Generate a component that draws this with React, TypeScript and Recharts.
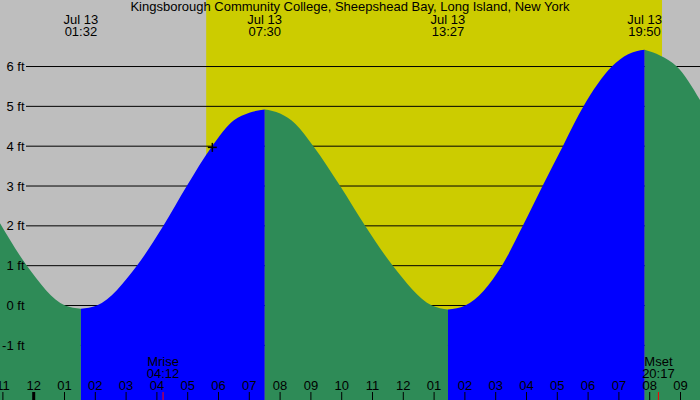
import React from "react";
import { ComposedChart, Area, Line, XAxis, YAxis, ReferenceDot } from "recharts";

// chart size and look
const W = 700;
const H = 400;
const FONT = '"Liberation Sans", Arial, sans-serif';
const FS = 13;

const title = "Kingsborough Community College, Sheepshead Bay, Long Island, New York";

// tide height (ft) at hours after midnight Jul 13
const tideHours = [-1.1, -0.22, 1.02, 1.533, 2.05, 3.35, 4.21, 4.97, 5.79, 6.5, 7.0, 7.5, 8.0, 8.5, 9.08, 9.95, 10.76, 11.66, 12.93, 13.45, 14.01, 15.2, 15.88, 16.52, 17.18, 17.85, 18.77, 19.3, 19.833, 20.35, 20.88, 21.64];
const tideFeet = [2.07, 1.0, 0.0, -0.08, 0.0, 1.0, 2.0, 3.0, 4.0, 4.65, 4.84, 4.92, 4.82, 4.56, 4.0, 3.0, 2.0, 1.0, 0.0, -0.1, 0.0, 1.0, 2.0, 3.0, 4.0, 5.0, 6.0, 6.31, 6.42, 6.27, 6.0, 5.15];

// high / low tide labels along the top
const extremeHours = [1.533, 7.5, 13.45, 19.833];
const extremeDates = ["Jul 13", "Jul 13", "Jul 13", "Jul 13"];
const extremeTimes = ["01:32", "07:30", "13:27", "19:50"];

// hour ticks along the bottom
const hourTicks = [-1, 0, 1, 2, 3, 4, 5, 6, 7, 8, 9, 10, 11, 12, 13, 14, 15, 16, 17, 18, 19, 20, 21];
const hourLabels = ["11", "12", "01", "02", "03", "04", "05", "06", "07", "08", "09", "10", "11", "12", "01", "02", "03", "04", "05", "06", "07", "08", "09"];

// moon rise / set
const moonHours = [4.2, 20.283];
const moonNames = ["Mrise", "Mset"];
const moonTimes = ["04:12", "20:17"];

// daylight
const sunriseHour = 5.6;
const sunsetHour = 20.4;

const feetTicks = [-1, 0, 1, 2, 3, 4, 5, 6];
const markerHour = 5.8;
const markerFeet = 3.97;

const xDomain: [number, number] = [-1.0942, 21.633];
const yDomain: [number, number] = [-2.372, 7.67];
const gridStart = -0.25;

// split every point into rising (blue) and falling (green) parts
const rows = tideHours.map((t, i) => {
  const upBefore = i > 0 && tideFeet[i] > tideFeet[i - 1];
  const upAfter = i < tideFeet.length - 1 && tideFeet[i + 1] > tideFeet[i];
  const downBefore = i > 0 && tideFeet[i] < tideFeet[i - 1];
  const downAfter = i < tideFeet.length - 1 && tideFeet[i + 1] < tideFeet[i];
  return {
    t,
    rise: upBefore || upAfter ? tideFeet[i] : null,
    fall: downBefore || downAfter ? tideFeet[i] : null,
  };
});

const dayRows = [
  { t: sunriseHour, v: yDomain[1] },
  { t: sunsetHour, v: yDomain[1] },
];

const HourTick = (props: any) => {
  const { x, payload } = props;
  const i = hourTicks.indexOf(payload.value);
  return (
    <g>
      <line x1={x} x2={x} y1={H - 8} y2={H} stroke="#000" strokeWidth={payload.value === 0 ? 3 : 1} />
      <text x={x} y={H - 10} textAnchor="middle" fontSize={FS} fontFamily={FONT} fill="#000">
        {hourLabels[i]}
      </text>
    </g>
  );
};

const ExtremeTick = (props: any) => {
  const { x, payload } = props;
  const i = extremeHours.indexOf(payload.value);
  return (
    <g fontSize={FS} fontFamily={FONT} fill="#000">
      <text x={x} y={24} textAnchor="middle">{extremeDates[i]}</text>
      <text x={x} y={36} textAnchor="middle">{extremeTimes[i]}</text>
    </g>
  );
};

const MoonTick = (props: any) => {
  const { x, payload } = props;
  const i = moonHours.indexOf(payload.value);
  return (
    <g fontSize={FS} fontFamily={FONT} fill="#000">
      <line x1={x} x2={x} y1={H - 8} y2={H} stroke="#ff0000" strokeWidth={1} />
      <text x={x} y={366} textAnchor="middle">{moonNames[i]}</text>
      <text x={x} y={378} textAnchor="middle">{moonTimes[i]}</text>
    </g>
  );
};

const FeetTick = (props: any) => {
  const { y, payload } = props;
  return (
    <text x={24.5} y={y + 4.5} textAnchor="end" fontSize={FS} fontFamily={FONT} fill="#000">
      {payload.value} ft
    </text>
  );
};

const Plus = (props: any) => {
  const { cx, cy } = props;
  return (
    <g stroke="#000" strokeWidth={1.5}>
      <line x1={cx - 4.5} x2={cx + 4.5} y1={cy} y2={cy} />
      <line x1={cx} x2={cx} y1={cy - 4.5} y2={cy + 4.5} />
    </g>
  );
};

export default function App() {
  return (
    <div style={{ position: "absolute", left: 0, top: 0, width: W, height: H, background: "#bebebe" }}>
      <ComposedChart width={W} height={H} data={rows} margin={{ top: 0, right: 0, bottom: 0, left: 0 }}>
        {/* daylight band */}
        <Area
          data={dayRows}
          type="linear"
          dataKey="v"
          stroke="none"
          fill="#cccc00"
          fillOpacity={1}
          baseValue="dataMin"
          dot={false}
          activeDot={false}
          isAnimationActive={false}
          zIndex={10}
        />
        {/* horizontal grid lines, under the tide */}
        {feetTicks.map((f) => (
          <Line
            key={f}
            data={[{ t: gridStart, v: f }, { t: xDomain[1], v: f }]}
            type="linear"
            dataKey="v"
            stroke="#000"
            strokeWidth={1}
            dot={false}
            activeDot={false}
            isAnimationActive={false}
            zIndex={20}
          />
        ))}
        <Area
          type="monotone"
          dataKey="fall"
          stroke="none"
          fill="#2e8b57"
          fillOpacity={1}
          baseValue="dataMin"
          connectNulls={false}
          dot={false}
          activeDot={false}
          isAnimationActive={false}
          zIndex={100}
        />
        <Area
          type="monotone"
          dataKey="rise"
          stroke="none"
          fill="#0000ff"
          fillOpacity={1}
          baseValue="dataMin"
          connectNulls={false}
          dot={false}
          activeDot={false}
          isAnimationActive={false}
          zIndex={100}
        />
        <XAxis
          type="number"
          dataKey="t"
          domain={xDomain}
          allowDataOverflow
          ticks={hourTicks}
          interval={0}
          tick={<HourTick />}
          tickLine={false}
          axisLine={false}
          mirror
        />
        <XAxis
          xAxisId="top"
          type="number"
          dataKey="t"
          orientation="top"
          domain={xDomain}
          allowDataOverflow
          ticks={extremeHours}
          interval={0}
          tick={<ExtremeTick />}
          tickLine={false}
          axisLine={false}
          mirror
        />
        <XAxis
          xAxisId="moon"
          type="number"
          dataKey="t"
          domain={xDomain}
          allowDataOverflow
          ticks={moonHours}
          interval={0}
          tick={<MoonTick />}
          tickLine={false}
          axisLine={false}
          mirror
        />
        <YAxis
          type="number"
          domain={yDomain}
          allowDataOverflow
          ticks={feetTicks}
          interval={0}
          tick={<FeetTick />}
          tickLine={false}
          axisLine={false}
          mirror
        />
        <ReferenceDot x={markerHour} y={markerFeet} shape={<Plus />} />
      </ComposedChart>
      <div
        style={{
          position: "absolute",
          left: 0,
          top: 0,
          width: W,
          textAlign: "center",
          fontFamily: FONT,
          fontSize: FS,
          lineHeight: "14px",
          color: "#000",
        }}
      >
        {title}
      </div>
    </div>
  );
}
